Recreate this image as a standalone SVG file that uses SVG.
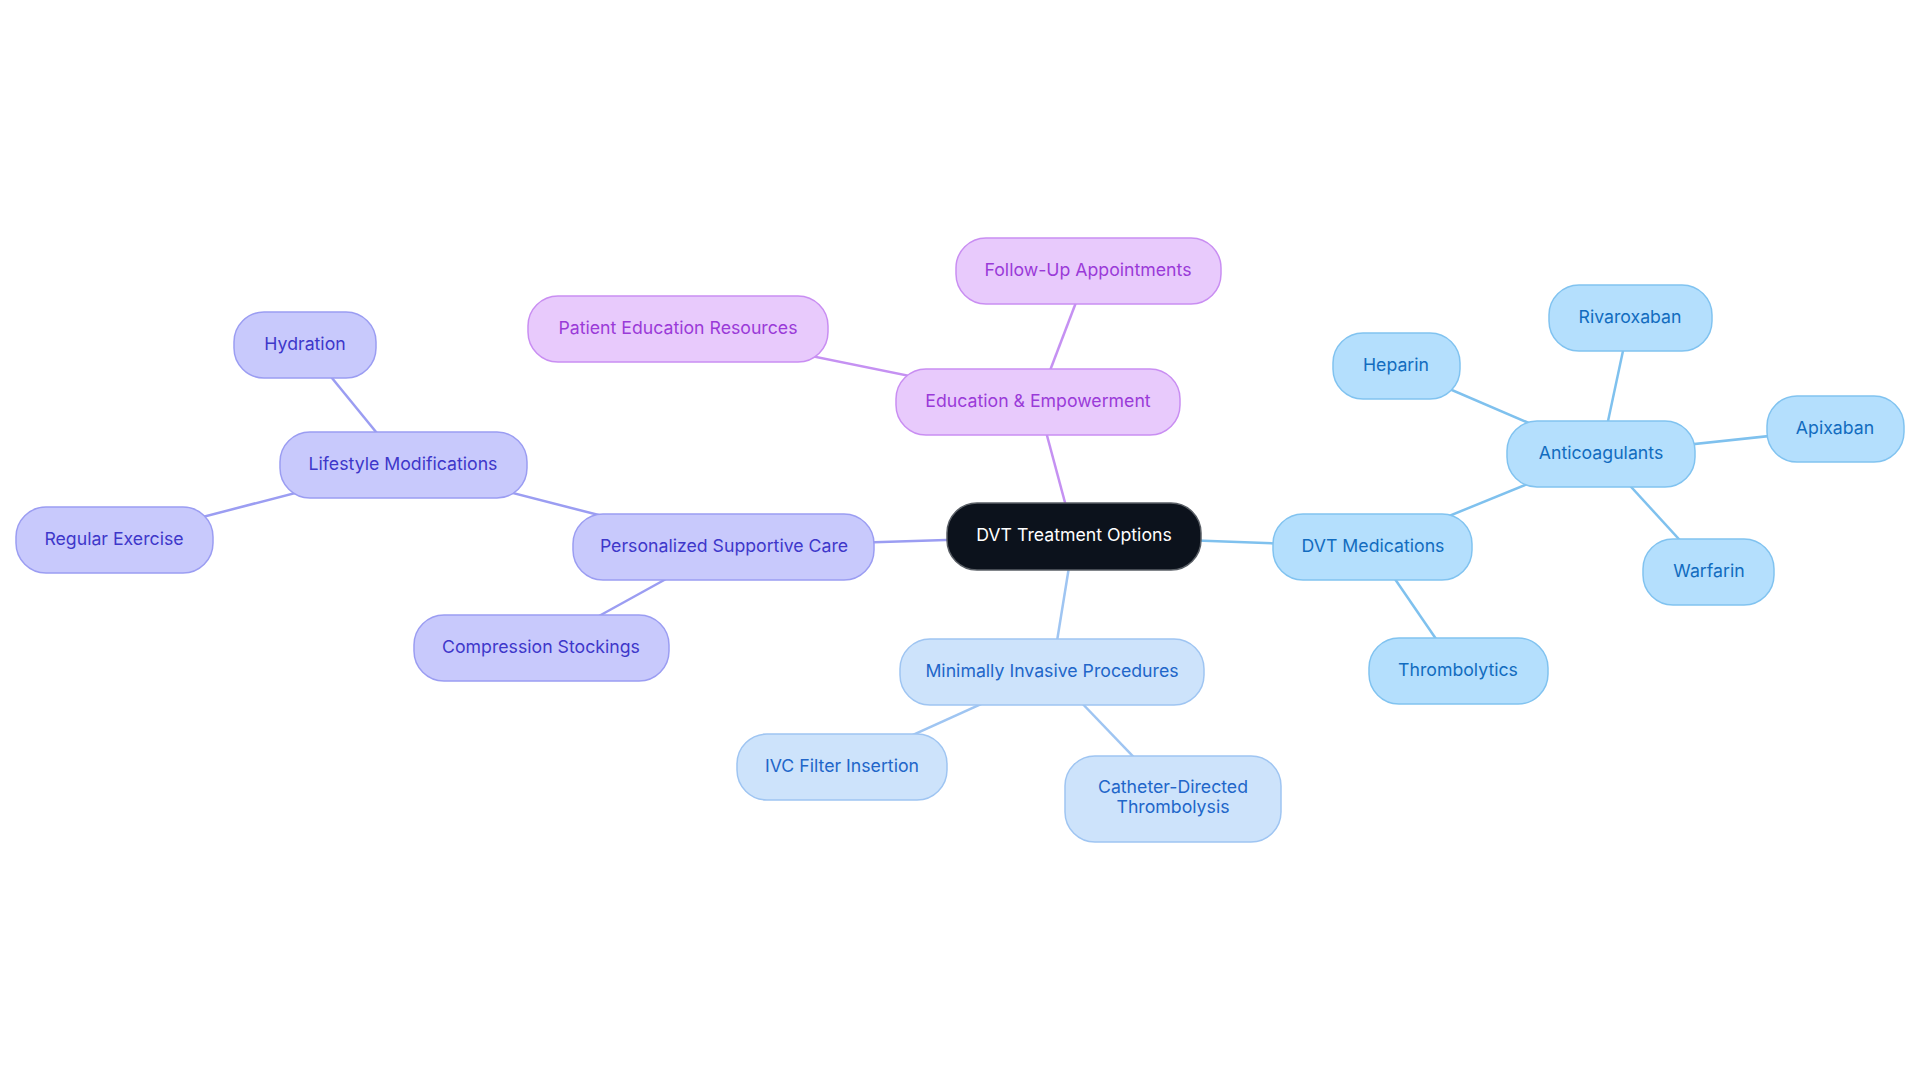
<svg xmlns="http://www.w3.org/2000/svg" width="1920" height="1083" viewBox="0 0 1920 1083">
<style>
text{font-family:Inter,"Noto Sans","Liberation Sans",sans-serif;font-size:17.7px;text-anchor:middle;dominant-baseline:central}
.root rect{fill:#0c121c;stroke:#5a5f66;stroke-width:1.5}
.root text{fill:#ffffff}
.pur rect{fill:#e8cafc;stroke:#c98ef2;stroke-width:1.5}
.pur text{fill:#9a3ad8}
.ind rect{fill:#c8c9fc;stroke:#9b9df2;stroke-width:1.5}
.ind text{fill:#3e37ca}
.lb rect{fill:#cde3fb;stroke:#9fc5f2;stroke-width:1.5}
.lb text{fill:#2166c9}
.sky rect{fill:#b4dffd;stroke:#81c3f0;stroke-width:1.5}
.sky text{fill:#126cbf}
#connectors line{stroke-width:2.5;fill:none}
.cp{stroke:#c591f2}.ci{stroke:#9b9df2}.cl{stroke:#9fc5f2}.cs{stroke:#7fc1ee}
</style>
<rect width="1920" height="1083" fill="#ffffff"/>
<g id="connectors">
<line class="cp" x1="1074" y1="536" x2="1038" y2="402"/>
<line class="cp" x1="1038" y1="402" x2="1088" y2="271"/>
<line class="cp" x1="1038" y1="402" x2="678" y2="329"/>
<line class="ci" x1="1074" y1="536" x2="724" y2="547"/>
<line class="ci" x1="724" y1="547" x2="403" y2="465"/>
<line class="ci" x1="724" y1="547" x2="541" y2="648"/>
<line class="ci" x1="403" y1="465" x2="305" y2="345"/>
<line class="ci" x1="403" y1="465" x2="114" y2="540"/>
<line class="cl" x1="1074" y1="536" x2="1052" y2="672"/>
<line class="cl" x1="1052" y1="672" x2="842" y2="767"/>
<line class="cl" x1="1052" y1="672" x2="1173" y2="798"/>
<line class="cs" x1="1074" y1="536" x2="1373" y2="547"/>
<line class="cs" x1="1373" y1="547" x2="1601" y2="454"/>
<line class="cs" x1="1373" y1="547" x2="1458" y2="671"/>
<line class="cs" x1="1601" y1="454" x2="1396" y2="366"/>
<line class="cs" x1="1601" y1="454" x2="1630" y2="318"/>
<line class="cs" x1="1601" y1="454" x2="1835" y2="429"/>
<line class="cs" x1="1601" y1="454" x2="1709" y2="572"/>
</g>
<g id="n-root" class="root"><rect x="947" y="503" width="254" height="67" rx="30"/><text x="1074" y="534">DVT Treatment Options</text></g>
<g id="n-edu" class="pur"><rect x="896" y="369" width="284" height="66" rx="30"/><text x="1038" y="400">Education &amp; Empowerment</text></g>
<g id="n-follow" class="pur"><rect x="956" y="238" width="265" height="66" rx="30"/><text x="1088" y="269">Follow-Up Appointments</text></g>
<g id="n-patient" class="pur"><rect x="528" y="296" width="300" height="66" rx="30"/><text x="678" y="327">Patient Education Resources</text></g>
<g id="n-care" class="ind"><rect x="573" y="514" width="301" height="66" rx="30"/><text x="724" y="545">Personalized Supportive Care</text></g>
<g id="n-life" class="ind"><rect x="280" y="432" width="247" height="66" rx="30"/><text x="403" y="463">Lifestyle Modifications</text></g>
<g id="n-hyd" class="ind"><rect x="234" y="312" width="142" height="66" rx="30"/><text x="305" y="343">Hydration</text></g>
<g id="n-ex" class="ind"><rect x="16" y="507" width="197" height="66" rx="30"/><text x="114" y="538">Regular Exercise</text></g>
<g id="n-comp" class="ind"><rect x="414" y="615" width="255" height="66" rx="30"/><text x="541" y="646">Compression Stockings</text></g>
<g id="n-mip" class="lb"><rect x="900" y="639" width="304" height="66" rx="30"/><text x="1052" y="670">Minimally Invasive Procedures</text></g>
<g id="n-ivc" class="lb"><rect x="737" y="734" width="210" height="66" rx="30"/><text x="842" y="765">IVC Filter Insertion</text></g>
<g id="n-cdt" class="lb"><rect x="1065" y="756" width="216" height="86" rx="30"/><text x="1173" y="786">Catheter-Directed</text><text x="1173" y="806">Thrombolysis</text></g>
<g id="n-med" class="sky"><rect x="1273" y="514" width="199" height="66" rx="30"/><text x="1373" y="545">DVT Medications</text></g>
<g id="n-anti" class="sky"><rect x="1507" y="421" width="188" height="66" rx="30"/><text x="1601" y="452">Anticoagulants</text></g>
<g id="n-hep" class="sky"><rect x="1333" y="333" width="127" height="66" rx="30"/><text x="1396" y="364">Heparin</text></g>
<g id="n-riv" class="sky"><rect x="1549" y="285" width="163" height="66" rx="30"/><text x="1630" y="316">Rivaroxaban</text></g>
<g id="n-api" class="sky"><rect x="1767" y="396" width="137" height="66" rx="30"/><text x="1835" y="427">Apixaban</text></g>
<g id="n-war" class="sky"><rect x="1643" y="539" width="131" height="66" rx="30"/><text x="1709" y="570">Warfarin</text></g>
<g id="n-thr" class="sky"><rect x="1369" y="638" width="179" height="66" rx="30"/><text x="1458" y="669">Thrombolytics</text></g>
</svg>
